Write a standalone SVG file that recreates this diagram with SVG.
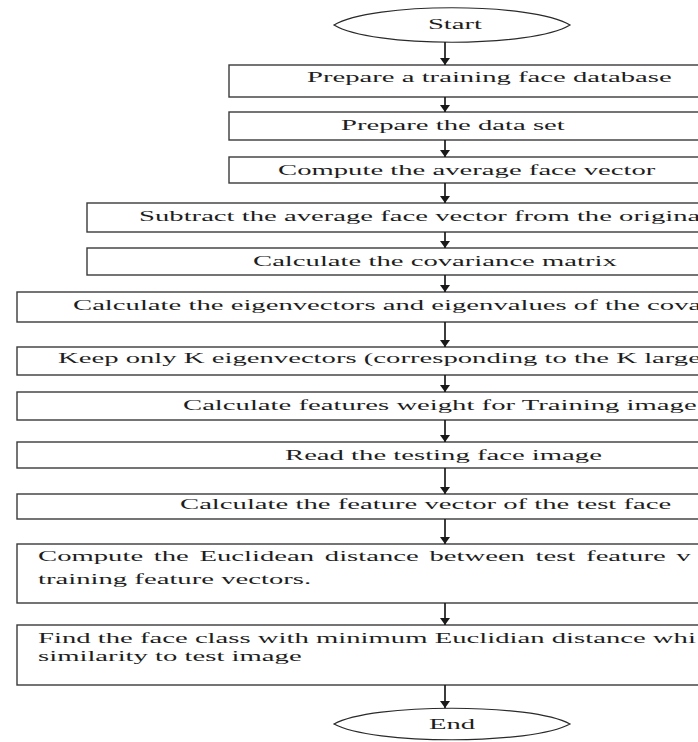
<svg xmlns="http://www.w3.org/2000/svg" width="698" height="742" viewBox="0 0 698 742">
  <style>
    .bg { fill: #ffffff; }
    .box { fill: #ffffff; stroke: #3a3a3a; stroke-width: 1.4; }
    .term { fill: #ffffff; stroke: #2a2a2a; stroke-width: 1.2; }
    .lbl { font-family: "Liberation Serif", "Times New Roman", serif; font-size: 14px; fill: #1e1e1e; }
    .mid { text-anchor: middle; }
    .flow { stroke: #1a1a1a; stroke-width: 1.7; fill: none; marker-end: url(#head); }
  </style>
  <defs>
    <marker id="head" viewBox="0 0 7 10" markerWidth="7" markerHeight="10" refX="7" refY="5" orient="auto" markerUnits="userSpaceOnUse">
      <path d="M0,0 L7,5 L0,10 z" fill="#1a1a1a"/>
    </marker>
  </defs>

  <rect class="bg" x="0" y="0" width="698" height="742"/>

  <!-- terminal: start -->
  <g id="start">
    <path class="term" d="M334,25 C372,2 532,2 570,25 C532,48 372,48 334,25 Z"/>
    <text class="lbl mid" transform="translate(455,29) scale(2.05,1)">Start</text>
  </g>

  <!-- process steps (boxes run past the right edge) -->
  <g id="step-training-db">
    <rect class="box" x="229" y="65" width="490" height="32"/>
    <text class="lbl" transform="translate(307,82) scale(2.05,1)">Prepare a training face database</text>
  </g>
  <g id="step-data-set">
    <rect class="box" x="229" y="112" width="490" height="28"/>
    <text class="lbl" transform="translate(341,130) scale(2.05,1)">Prepare the data set</text>
  </g>
  <g id="step-average">
    <rect class="box" x="229" y="157" width="490" height="26"/>
    <text class="lbl" transform="translate(278,175) scale(2.05,1)">Compute the average face vector</text>
  </g>
  <g id="step-subtract">
    <rect class="box" x="87" y="203" width="632" height="29"/>
    <text class="lbl" transform="translate(139,221) scale(2.05,1)">Subtract the average face vector from the origina</text>
  </g>
  <g id="step-covariance">
    <rect class="box" x="87" y="248" width="632" height="27"/>
    <text class="lbl" transform="translate(253,266) scale(2.05,1)">Calculate the covariance matrix</text>
  </g>
  <g id="step-eigen">
    <rect class="box" x="17" y="292" width="702" height="30"/>
    <text class="lbl" transform="translate(73,310) scale(2.05,1)">Calculate the eigenvectors and eigenvalues of the cova</text>
  </g>
  <g id="step-keep-k">
    <rect class="box" x="17" y="347" width="702" height="28"/>
    <text class="lbl" transform="translate(58,363) scale(2.05,1)">Keep only K eigenvectors (corresponding to the K large</text>
  </g>
  <g id="step-weights">
    <rect class="box" x="17" y="392" width="702" height="28"/>
    <text class="lbl" transform="translate(183,410) scale(2.05,1)">Calculate features weight for Training image</text>
  </g>
  <g id="step-read-test">
    <rect class="box" x="17" y="442" width="702" height="26"/>
    <text class="lbl" transform="translate(285,460) scale(2.05,1)">Read the testing face image</text>
  </g>
  <g id="step-test-vector">
    <rect class="box" x="17" y="494" width="702" height="25"/>
    <text class="lbl" transform="translate(180,509) scale(2.05,1)">Calculate the feature vector of the test face</text>
  </g>
  <g id="step-distance">
    <rect class="box" x="17" y="544" width="702" height="59"/>
    <text class="lbl" transform="translate(38,561) scale(2.05,1)" word-spacing="1.7">Compute the Euclidean distance between test feature v</text>
    <text class="lbl" transform="translate(38,584) scale(2.05,1)">training feature vectors.</text>
  </g>
  <g id="step-match">
    <rect class="box" x="17" y="625" width="702" height="60"/>
    <text class="lbl" transform="translate(38,643) scale(2.05,1)">Find the face class with minimum Euclidian distance whi</text>
    <text class="lbl" transform="translate(38,661) scale(2.05,1)">similarity to test image</text>
  </g>

  <!-- terminal: end -->
  <g id="end">
    <path class="term" d="M334,724 C372,703 532,703 570,724 C532,745 372,745 334,724 Z"/>
    <text class="lbl mid" transform="translate(452,729) scale(2.05,1)">End</text>
  </g>

  <!-- connectors -->
  <g id="connectors">
    <line class="flow" x1="445" y1="42" x2="445" y2="65"/>
    <line class="flow" x1="445" y1="97" x2="445" y2="112"/>
    <line class="flow" x1="445" y1="140" x2="445" y2="157"/>
    <line class="flow" x1="445" y1="183" x2="445" y2="203"/>
    <line class="flow" x1="445" y1="232" x2="445" y2="248"/>
    <line class="flow" x1="445" y1="275" x2="445" y2="292"/>
    <line class="flow" x1="445" y1="322" x2="445" y2="347"/>
    <line class="flow" x1="445" y1="375" x2="445" y2="392"/>
    <line class="flow" x1="445" y1="420" x2="445" y2="442"/>
    <line class="flow" x1="445" y1="468" x2="445" y2="494"/>
    <line class="flow" x1="445" y1="519" x2="445" y2="544"/>
    <line class="flow" x1="445" y1="603" x2="445" y2="625"/>
    <line class="flow" x1="445" y1="685" x2="445" y2="708"/>
  </g>
</svg>
